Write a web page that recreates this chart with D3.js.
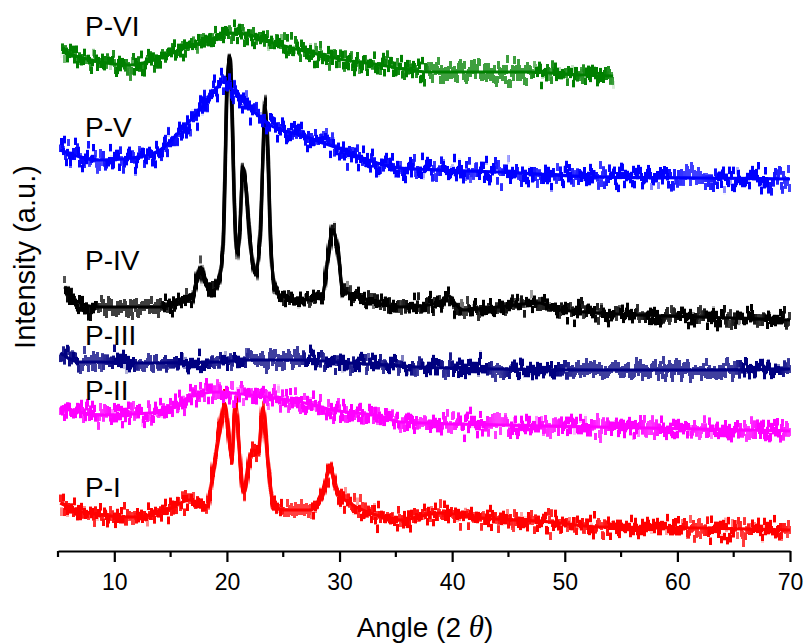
<!DOCTYPE html>
<html>
<head>
<meta charset="utf-8">
<script src="https://cdn.jsdelivr.net/npm/d3@7"></script>
<style>
  body { margin: 0; background: #fff; }
  svg { display: block; font-family: Arial, "Liberation Sans", sans-serif; }
</style>
</head>
<body>
<svg id="chart" width="804" height="644"></svg>
<script>
// sample names, trace colours, label baselines
const samples = ['P-I', 'P-II', 'P-III', 'P-IV', 'P-V', 'P-VI'];
const colors = ['#ff0000', '#ff00ff', '#000080', '#000000', '#0000ff', '#008000'];
const labelY = [497, 400, 345, 270, 137, 36];
const noiseScale = [42, 38, 32, 34, 42, 42];

const xTicks = [10, 20, 30, 40, 50, 60, 70];
const xMinorTicks = [5, 15, 25, 35, 45, 55, 65];

// traces: 2-theta angles and stacked intensity (a.u., offset per sample)
const angleI = [5.2, 7.2, 11.7, 14.7, 16.7, 18.2, 18.8, 19.4, 19.8, 20.45, 20.7, 21.5, 22.05, 22.3, 22.8, 23.2, 23.65, 24.1, 25.0, 27.4, 28.5, 29.15, 29.8, 30.9, 33.9, 35.4, 38.9, 42.7, 48.7, 53.1, 62, 70];
const intensityI = [48, 39, 34, 41, 51, 44, 81, 121, 148, 94, 141, 58, 94, 101, 98, 144, 88, 48, 41, 41, 58, 81, 58, 48, 34, 31, 38, 33, 29, 24, 23, 21];

const angleII = [5.2, 8.7, 13.2, 15.2, 16.7, 19.1, 20.5, 23.5, 26.5, 29.4, 33.9, 35.4, 44.25, 53.1, 62, 70];
const intensityII = [144, 136, 138, 143, 154, 159, 158, 154, 149, 141, 134, 129, 126, 124, 122, 120];

const angleIII = [5.2, 6.9, 8.7, 13.2, 19.1, 22.05, 26.5, 31, 36.9, 44.25, 53.1, 62, 70];
const intensityIII = [198, 189, 189, 188, 189, 191, 191, 188, 184, 182, 181, 181, 182];

const angleIV = [5.6, 6.3, 8.6, 12.1, 14.06, 15.83, 16.9, 17.34, 17.7, 18.05, 18.77, 19.3, 19.65, 19.83, 20.0, 20.28, 20.45, 20.63, 20.9, 21.16, 21.43, 21.7, 22.05, 22.5, 22.94, 23.2, 23.38, 23.65, 23.9, 24.27, 24.98, 27.38, 28.53, 28.98, 29.42, 29.87, 30.3, 31.82, 35.37, 38.9, 39.6, 40.3, 41.0, 44, 47.8, 49, 53.1, 62, 70];
const intensityIV = [264, 252, 244, 244, 244, 249, 254, 271, 284, 268, 261, 271, 304, 378, 461, 494, 444, 361, 298, 324, 384, 364, 311, 278, 311, 394, 444, 394, 304, 264, 254, 251, 258, 294, 321, 298, 261, 254, 244, 248, 256, 247, 241, 244, 248, 242, 238, 234, 231];

const angleV = [5.2, 8.7, 11.7, 14.06, 16.1, 17.6, 19.1, 19.65, 20.9, 22.05, 23.83, 26.5, 30.3, 31.8, 35.4, 44.25, 53.1, 62, 70];
const intensityV = [401, 391, 393, 401, 423, 441, 463, 469, 456, 443, 426, 416, 401, 394, 383, 379, 374, 373, 372];

const angleVI = [5.36, 8.73, 11.39, 14.06, 16.28, 18.5, 20.28, 22.05, 23.83, 26.5, 30.0, 33.6, 38.0, 42.5, 46.9, 51.4, 54.3];
const intensityVI = [499, 489, 486, 493, 503, 511, 518, 516, 509, 501, 492, 486, 479, 479, 479, 476, 475];

const angles = [angleI, angleII, angleIII, angleIV, angleV, angleVI];
const intensities = [intensityI, intensityII, intensityIII, intensityIV, intensityV, intensityVI];

const svg = d3.select('#chart');
const axisY = 551;

const x = d3.scaleLinear().domain([5, 70]).range([58, 790]);
const y = d3.scaleLinear().domain([0, axisY]).range([axisY, 0]);

// jagged look of the raw scans, done as a rendering filter on top of a solid core line
const defs = svg.append('defs');
samples.forEach((s, i) => {
  const f = defs.append('filter')
    .attr('id', `noise${i}`)
    .attr('filterUnits', 'userSpaceOnUse')
    .attr('x', 0).attr('y', 0).attr('width', 804).attr('height', 644)
    .attr('color-interpolation-filters', 'sRGB');
  f.append('feTurbulence')
    .attr('type', 'fractalNoise')
    .attr('baseFrequency', '0.7 0.004')
    .attr('numOctaves', 3)
    .attr('seed', i * 7 + 3)
    .attr('result', 't');
  f.append('feColorMatrix')
    .attr('in', 't')
    .attr('type', 'matrix')
    .attr('values', '0 0 0 0 0.5  0 1 0 0 0  0 0 1 0 0  0 0 0 0 1')
    .attr('result', 'm');
  f.append('feDisplacementMap')
    .attr('in', 'SourceGraphic')
    .attr('in2', 'm')
    .attr('scale', noiseScale[i])
    .attr('xChannelSelector', 'R')
    .attr('yChannelSelector', 'G')
    .attr('result', 'd');
  f.append('feMorphology')
    .attr('in', 'd')
    .attr('operator', 'dilate')
    .attr('radius', '0.5 2.5');
});

const line = d3.line()
  .x(d => x(d[0]))
  .y(d => y(d[1]))
  .curve(d3.curveMonotoneX);

samples.forEach((s, i) => {
  const pts = d3.zip(angles[i], intensities[i]);
  const g = svg.append('g');
  g.append('path')
    .datum(pts)
    .attr('d', line)
    .attr('fill', 'none')
    .attr('stroke', colors[i])
    .attr('stroke-width', 1.5)
    .attr('filter', `url(#noise${i})`);
  g.append('path')
    .datum(pts)
    .attr('d', line)
    .attr('fill', 'none')
    .attr('stroke', colors[i])
    .attr('stroke-width', 3.2);

  svg.append('text')
    .attr('x', 85)
    .attr('y', labelY[i])
    .attr('font-size', '28px')
    .attr('fill', '#000')
    .text(s);
});

// bottom axis: majors every 10, minors at the fives
const xAxis = svg.append('g')
  .attr('transform', `translate(0,${axisY})`)
  .call(d3.axisBottom(x).tickValues(xTicks).tickSize(11).tickSizeOuter(0).tickFormat(d3.format('d')));
xAxis.select('.domain').attr('stroke', '#000').attr('stroke-width', 2.2);
xAxis.selectAll('.tick line').attr('stroke', '#000').attr('stroke-width', 2.2);
xAxis.selectAll('.tick text')
  .attr('font-size', '23px')
  .attr('font-family', 'Arial, "Liberation Sans", sans-serif')
  .attr('fill', '#000')
  .attr('dy', null)
  .attr('y', 39);

svg.append('g')
  .attr('transform', `translate(0,${axisY})`)
  .selectAll('line')
  .data(xMinorTicks)
  .enter()
  .append('line')
  .attr('x1', d => x(d)).attr('x2', d => x(d))
  .attr('y1', 0).attr('y2', 6)
  .attr('stroke', '#000')
  .attr('stroke-width', 2.2);

// axis titles
const xTitle = svg.append('text')
  .attr('x', 425)
  .attr('y', 637)
  .attr('text-anchor', 'middle')
  .attr('font-size', '28px')
  .attr('fill', '#000');
xTitle.append('tspan').text('Angle (2 ');
xTitle.append('tspan')
  .attr('font-family', '"Liberation Serif", "DejaVu Serif", serif')
  .attr('font-style', 'italic')
  .attr('font-size', '31px')
  .text('θ');
xTitle.append('tspan').text(')');

svg.append('text')
  .attr('transform', 'translate(35,257) rotate(-90)')
  .attr('text-anchor', 'middle')
  .attr('font-size', '29px')
  .attr('fill', '#000')
  .text('Intensity (a.u.)');
</script>
</body>
</html>
